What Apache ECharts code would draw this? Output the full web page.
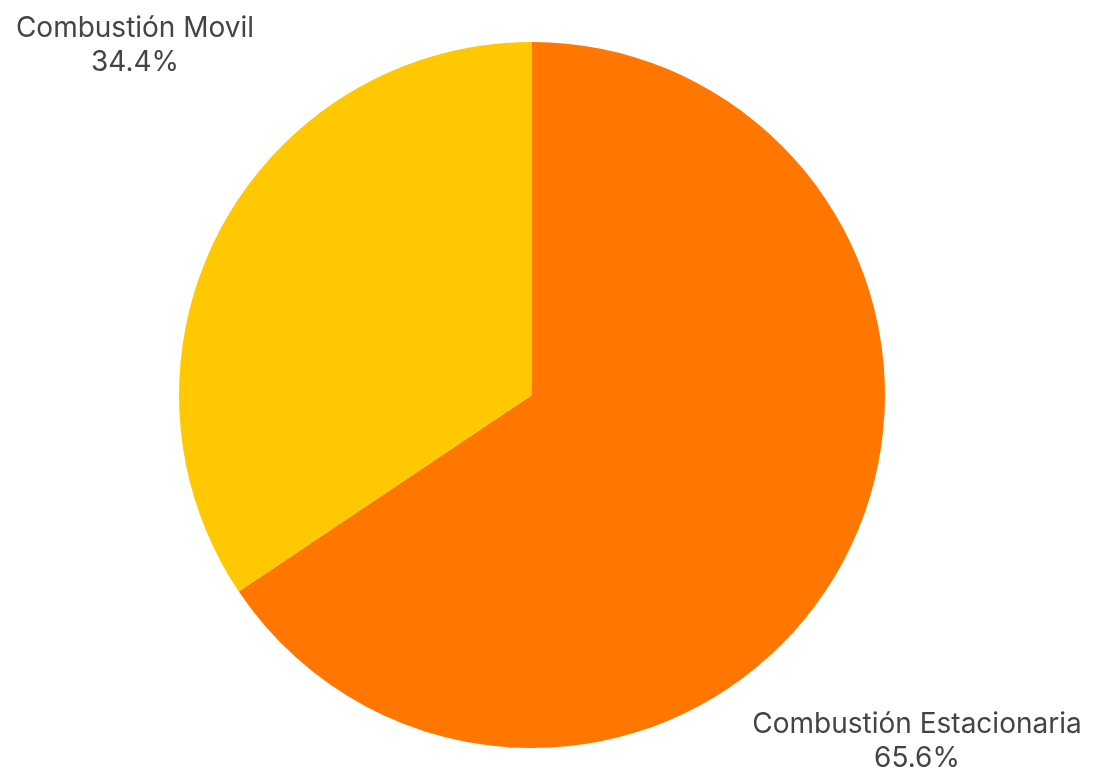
<!DOCTYPE html>
<html>
<head>
<meta charset="utf-8">
<script src="https://cdn.jsdelivr.net/npm/echarts@6/dist/echarts.min.js"></script>
<style>html,body{margin:0;padding:0;background:#fff}#c{width:1094px;height:772px}</style>
</head>
<body>
<div id="c"></div>
<script>
const categories = ['Combustión Estacionaria', 'Combustión Movil'];
const values = [65.6, 34.4];
const colors = ['#FF7700', '#FFC800'];
const labelPos = [[917, 742], [135, 46]];

const chart = echarts.init(document.getElementById('c'), null, {renderer: 'canvas'});
chart.setOption({
  animation: false,
  series: [{
    type: 'pie',
    center: [532, 395],
    radius: [0, 353],
    startAngle: 90,
    clockwise: true,
    data: categories.map((n, i) => ({name: n, value: values[i], itemStyle: {color: colors[i]}})),
    label: {
      show: true,
      position: 'outside',
      formatter: p => p.name + '\n' + p.value.toFixed(1) + '%',
      fontFamily: 'Inter',
      fontSize: 28,
      lineHeight: 34,
      color: '#444',
      align: 'center',
      overflow: 'none',
      width: 420
    },
    labelLine: {show: false},
    labelLayout: p => ({x: labelPos[p.dataIndex][0], y: labelPos[p.dataIndex][1], align: 'center', verticalAlign: 'middle'})
  }]
});
</script>
</body>
</html>
